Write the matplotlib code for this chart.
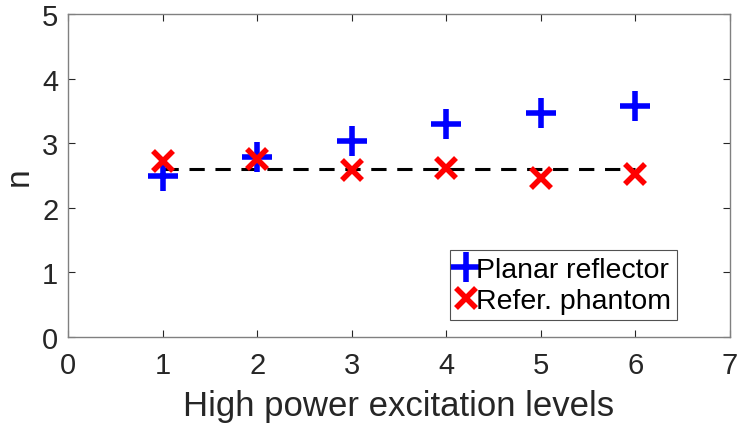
import matplotlib
matplotlib.use("Agg")
import matplotlib.pyplot as plt

levels = [1, 2, 3, 4, 5, 6]
planar_reflector = [2.50, 2.78, 3.04, 3.29, 3.46, 3.58]
refer_phantom = [2.73, 2.75, 2.59, 2.61, 2.46, 2.53]
mean_level = 2.60
xticks = [0, 1, 2, 3, 4, 5, 6, 7]
yticks = [0, 1, 2, 3, 4, 5]

plt.rcParams['font.family'] = ['Liberation Sans', 'DejaVu Sans']
fig = plt.figure(figsize=(7.37, 4.31), dpi=100)
ax = fig.add_axes([68/737, (431-338)/431, (730-68)/737, (338-15)/431])

gray = '#262626'
ax.plot([levels[0], levels[-1]], [mean_level, mean_level], color='black',
        linestyle=(0, (5, 3.5)), linewidth=2.2, zorder=1)
ax.plot(levels, planar_reflector, linestyle='none', marker='+', color='#0000ff',
        markersize=22, markeredgewidth=4, label='Planar reflector', zorder=3)
ax.plot(levels, refer_phantom, linestyle='none', marker='x', color='#ff0000',
        markersize=15, markeredgewidth=4, label='Refer. phantom', zorder=4)

ax.set_xlim(0, 7)
ax.set_ylim(0, 5)
ax.set_xticks(xticks)
ax.set_yticks(yticks)
ax.tick_params(direction='in', top=True, right=True, length=5, width=0.8,
               labelsize=21, colors=gray)
ax.tick_params(axis='x', pad=10)
ax.tick_params(axis='y', pad=7)
for s in ax.spines.values():
    s.set_color('#808080')
    s.set_linewidth(1.0)
ax.set_xlabel('High power excitation levels', fontsize=25, color=gray, labelpad=7)
ax.set_ylabel('n', fontsize=24, color=gray, labelpad=5)

leg = ax.legend(loc='lower right', bbox_to_anchor=(677/737, (431-321)/431),
                bbox_transform=fig.transFigure, fontsize=20.5, frameon=True,
                fancybox=False, edgecolor='#262626', handlelength=0.7,
                handletextpad=0.0, borderpad=0.22, labelspacing=0.18,
                borderaxespad=0, markerscale=1.0)
leg.get_frame().set_linewidth(0.8)

fig.savefig('out.png', dpi=100)
